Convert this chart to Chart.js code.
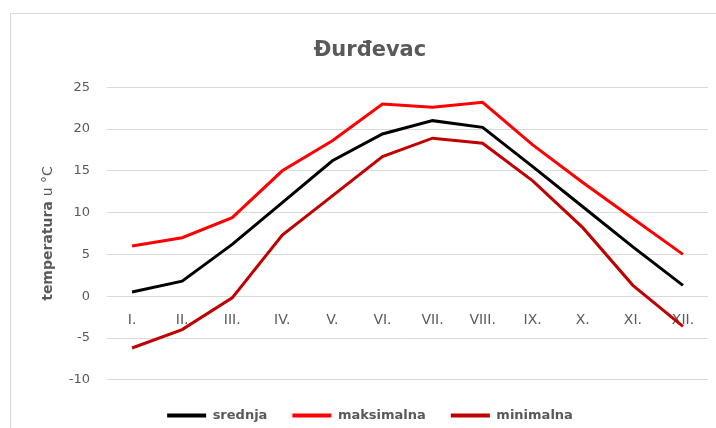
<!DOCTYPE html>
<html>
<head>
<meta charset="utf-8">
<script src="https://cdn.jsdelivr.net/npm/chart.js@4.4.1/dist/chart.umd.min.js"></script>
<style>
  html, body { margin: 0; padding: 0; background: #fff; overflow: hidden; }
  .frame { position: absolute; left: 10px; top: 13px; width: 718px; height: 440px; border: 1px solid #d9d9d9; }
  .chart-box { position: relative; width: 718px; height: 418px; }
</style>
</head>
<body>
<div class="frame"><div class="chart-box"><canvas id="myChart"></canvas></div></div>
<script>
const months = ['I.', 'II.', 'III.', 'IV.', 'V.', 'VI.', 'VII.', 'VIII.', 'IX.', 'X.', 'XI.', 'XII.'];
const srednja = [0.5, 1.8, 6.2, 11.2, 16.2, 19.4, 21.0, 20.2, 15.5, 10.7, 5.9, 1.3];
const maksimalna = [6.0, 7.0, 9.4, 15.0, 18.6, 23.0, 22.6, 23.2, 18.1, 13.6, 9.3, 5.0];
const minimalna = [-6.2, -4.0, -0.2, 7.3, 12.0, 16.7, 18.9, 18.3, 13.8, 8.2, 1.3, -3.6];
const yTicks = [-10, -5, 0, 5, 10, 15, 20, 25];

const FONT = '"DejaVu Sans"';
const GREY = '#595959';

// y axis title: bold "temperatura" + normal "u °C"
const yTitlePlugin = {
  id: 'yTitle',
  afterDraw(chart) {
    const ctx = chart.ctx;
    const area = chart.chartArea;
    const bold = 'bold 14px ' + FONT;
    const normal = '14px ' + FONT;
    ctx.save();
    ctx.font = bold;
    const w1 = ctx.measureText('temperatura ').width;
    ctx.font = normal;
    const w2 = ctx.measureText('u °C').width;
    ctx.translate(37, (area.top + area.bottom) / 2);
    ctx.rotate(-Math.PI / 2);
    ctx.fillStyle = GREY;
    ctx.textBaseline = 'middle';
    let x = -(w1 + w2) / 2;
    ctx.font = bold;
    ctx.fillText('temperatura ', x, 0);
    ctx.font = normal;
    ctx.fillText('u °C', x + w1, 0);
    ctx.restore();
  }
};

const ctx = document.getElementById('myChart').getContext('2d');
new Chart(ctx, {
  type: 'line',
  data: {
    labels: months,
    datasets: [
      { label: 'srednja', data: srednja, borderColor: '#000000', backgroundColor: '#000000' },
      { label: 'maksimalna', data: maksimalna, borderColor: '#ff0000', backgroundColor: '#ff0000' },
      { label: 'minimalna', data: minimalna, borderColor: '#c00000', backgroundColor: '#c00000' }
    ]
  },
  options: {
    responsive: true,
    maintainAspectRatio: false,
    animation: false,
    elements: {
      line: { borderWidth: 3, tension: 0 },
      point: { radius: 0 }
    },
    layout: { padding: { left: 21, right: 21, bottom: 0 } },
    plugins: {
      title: {
        display: true,
        text: 'Đurđevac',
        color: GREY,
        font: { family: FONT, size: 21, weight: 'bold' },
        padding: { top: 24, bottom: 24 }
      },
      legend: {
        position: 'bottom',
        // empty title only used as spacer above the items
        title: { display: true, text: '', font: { size: 3.5 }, padding: 0 },
        labels: {
          color: GREY,
          font: { family: FONT, size: 13, weight: 'bold' },
          usePointStyle: true,
          pointStyle: 'line',
          pointStyleWidth: 39,
          padding: 25,
          generateLabels: (chart) =>
            Chart.defaults.plugins.legend.labels.generateLabels(chart).map(l => ({ ...l, lineWidth: 4 }))
        }
      },
      tooltip: { enabled: false }
    },
    scales: {
      x: {
        position: { y: 0 },
        offset: true,
        grid: { display: false },
        border: { display: false },
        ticks: { color: GREY, font: { family: FONT, size: 14 }, padding: 8 }
      },
      y: {
        min: -10,
        max: 25,
        afterBuildTicks: (scale) => { scale.ticks = yTicks.map(v => ({ value: v })); },
        afterFit: (scale) => { scale.width = 75; },
        grid: { color: '#d9d9d9', drawTicks: false },
        border: { display: false },
        ticks: { color: GREY, font: { family: FONT, size: 13 }, padding: 17 }
      }
    }
  },
  plugins: [yTitlePlugin]
});
</script>
</body>
</html>
